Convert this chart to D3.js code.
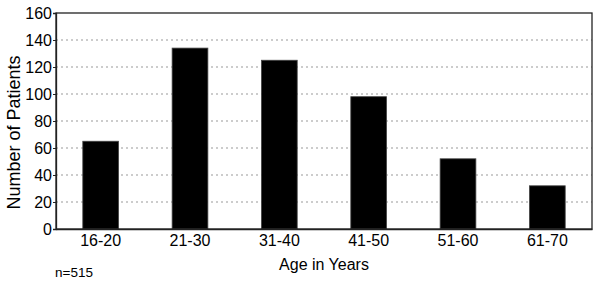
<!DOCTYPE html>
<html>
    <head>
        <style>
            body { margin: 0; background: #fff; }
            text { font-family: 'Liberation Sans', Arial, sans-serif; fill: #000; }
        </style>
    </head>
    <body>
        <script src="https://d3js.org/d3.v7.min.js"></script>
        <svg id="chart" width="600" height="286"></svg>

        <script>
            // data
            const ageGroups = ['16-20', '21-30', '31-40', '41-50', '51-60', '61-70'];
            const patients = [65, 134, 125, 98, 52, 32];
            const yTicks = [0, 20, 40, 60, 80, 100, 120, 140, 160];
            const noteText = 'n=515';

            const margin = {top: 13, right: 8, bottom: 57, left: 56};
            const svg = d3.select('#chart');
            const width = +svg.attr('width');
            const height = +svg.attr('height');
            const innerWidth = width - margin.left - margin.right;
            const innerHeight = height - margin.top - margin.bottom;

            const g = svg.append('g').attr('transform', `translate(${margin.left}, ${margin.top})`);

            const xScale = d3.scaleBand()
                             .domain(ageGroups)
                             .range([0, innerWidth])
                             .paddingInner(0.6)
                             .paddingOuter(0.3);
            const yScale = d3.scaleLinear()
                             .domain([0, 160])
                             .range([innerHeight, 0]);

            // dotted grid lines
            g.append('g')
             .selectAll('line')
             .data(yTicks.filter(d => d > 0 && d < 160))
             .enter()
             .append('line')
             .attr('x1', 0)
             .attr('x2', innerWidth)
             .attr('y1', d => yScale(d))
             .attr('y2', d => yScale(d))
             .attr('stroke', '#999')
             .attr('stroke-width', 1)
             .attr('stroke-dasharray', '2,3');

            // bars
            g.append('g')
             .selectAll('rect')
             .data(ageGroups.map((a, i) => ({name: a, value: patients[i]})))
             .enter()
             .append('rect')
             .attr('x', d => xScale(d.name))
             .attr('y', d => yScale(d.value))
             .attr('width', xScale.bandwidth())
             .attr('height', d => innerHeight - yScale(d.value))
             .attr('fill', '#000')
             .attr('stroke', '#444')
             .attr('stroke-width', 0.8);

            // frame
            g.append('rect')
             .attr('width', innerWidth)
             .attr('height', innerHeight)
             .attr('fill', 'none')
             .attr('stroke', '#222')
             .attr('stroke-width', 1.3);

            // axes
            const yAxis = d3.axisLeft(yScale).tickValues(yTicks).tickSize(3).tickPadding(1);
            const xAxis = d3.axisBottom(xScale).tickSize(0).tickPadding(6);

            const yG = g.append('g').call(yAxis);
            const xG = g.append('g').call(xAxis).attr('transform', `translate(0, ${innerHeight})`);
            [yG, xG].forEach(a => {
                a.select('.domain').attr('stroke', '#222').attr('stroke-width', 1.3);
                a.selectAll('.tick line').attr('stroke', '#222');
                a.selectAll('.tick text').attr('font-size', '16px').attr('font-family', "'Liberation Sans', Arial, sans-serif").attr('fill', '#000');
            });

            // titles
            svg.append('text')
               .text('Age in Years')
               .attr('x', margin.left + innerWidth / 2)
               .attr('y', 270)
               .attr('text-anchor', 'middle')
               .attr('font-size', '16px');

            svg.append('text')
               .text('Number of Patients')
               .attr('transform', 'translate(20, 132.5) rotate(-90)')
               .attr('text-anchor', 'middle')
               .attr('font-size', '18px');

            svg.append('text')
               .text(noteText)
               .attr('x', 55)
               .attr('y', 277)
               .attr('font-size', '13.5px');
        </script>
    </body>
</html>
